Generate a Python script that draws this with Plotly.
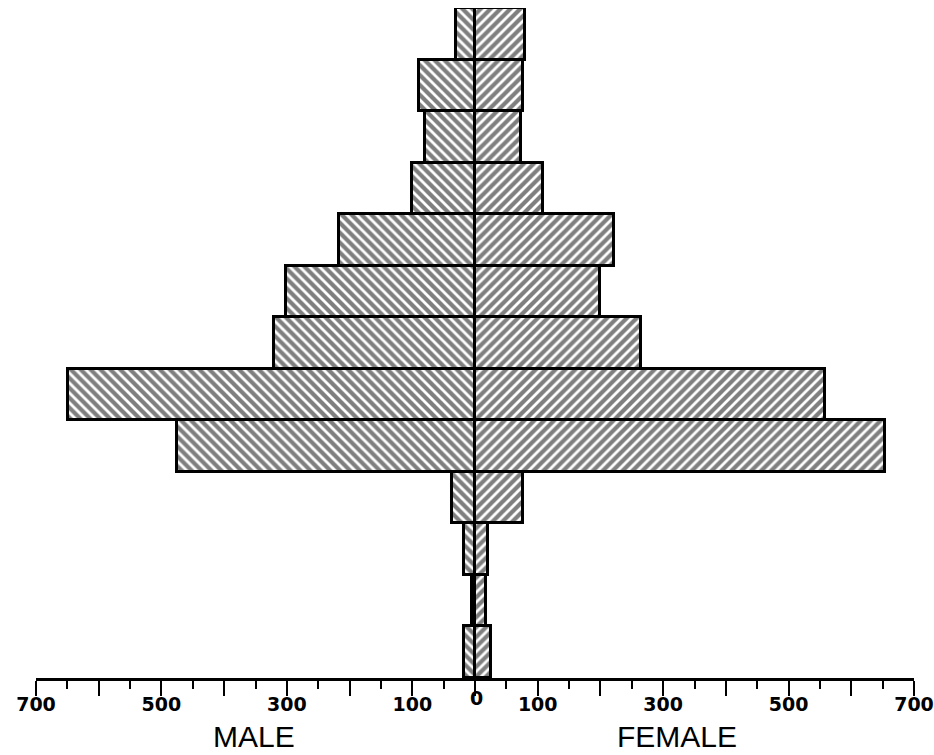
import plotly.graph_objects as go

# Age groups, bottom (youngest) to top (oldest)
age_groups = [f"G{i}" for i in range(13)]
male = [18, 5, 17, 37, 475, 649, 321, 302, 217, 101, 79, 90, 31]
female = [25, 17, 21, 77, 654, 558, 264, 200, 221, 109, 74, 77, 79]

tick_values = [-700, -600, -500, -400, -300, -200, -100, 0, 100, 200, 300, 400, 500, 600, 700]
tick_labels = ["700", "", "500", "", "300", "", "100", "", "100", "", "300", "", "500", "", "700"]
zero_label = "0"

fig = go.Figure()
fig.add_trace(go.Bar(
    y=age_groups, x=[-v for v in male], orientation="h", name="MALE",
    marker=dict(color="white", line=dict(color="black", width=3),
                pattern=dict(shape="\\", fgcolor="black", bgcolor="white", size=7, solidity=0.6)),
))
fig.add_trace(go.Bar(
    y=age_groups, x=female, orientation="h", name="FEMALE",
    marker=dict(color="white", line=dict(color="black", width=3),
                pattern=dict(shape="/", fgcolor="black", bgcolor="white", size=7, solidity=0.6)),
))

fig.update_layout(
    width=934, height=755,
    margin=dict(l=36, r=20, t=8, b=77, autoexpand=False),
    barmode="overlay", bargap=0,
    plot_bgcolor="white", paper_bgcolor="white",
    showlegend=False,
    xaxis=dict(range=[-700, 700], tickmode="array", tickvals=tick_values, ticktext=tick_labels,
               automargin=False,
               ticks="outside", ticklen=15, tickwidth=2, tickcolor="black",
               ticklabeloverflow="allow", ticklabelstandoff=-8,
               showline=True, linecolor="black", linewidth=2.5, showgrid=False, zeroline=False,
               tickfont=dict(family="DejaVu Sans", size=19, color="black", weight="bold"),
               minor=dict(tickmode="linear", tick0=0, dtick=50, ticks="outside", ticklen=8,
                          tickwidth=2, tickcolor="black", showgrid=False)),
    yaxis=dict(range=[-0.5, 12.5], showticklabels=False, showgrid=False, zeroline=False,
               showline=False, ticks="", automargin=False),
    annotations=[
        dict(x=3, y=-0.0105, xref="x", yref="paper", text=zero_label, showarrow=False,
             yanchor="top", font=dict(family="DejaVu Sans", size=19, color="black", weight="bold")),
        dict(x=-352, y=-0.088, xref="x", yref="paper", text="MALE", showarrow=False,
             yanchor="middle", font=dict(family="Liberation Sans", size=30, color="black")),
        dict(x=322, y=-0.088, xref="x", yref="paper", text="FEMALE", showarrow=False,
             yanchor="middle", font=dict(family="Liberation Sans", size=30, color="black")),
    ],
)

fig.write_html("out.html", config={"displayModeBar": False},
               post_script="document.body.style.margin='0';document.body.style.overflow='hidden';")
